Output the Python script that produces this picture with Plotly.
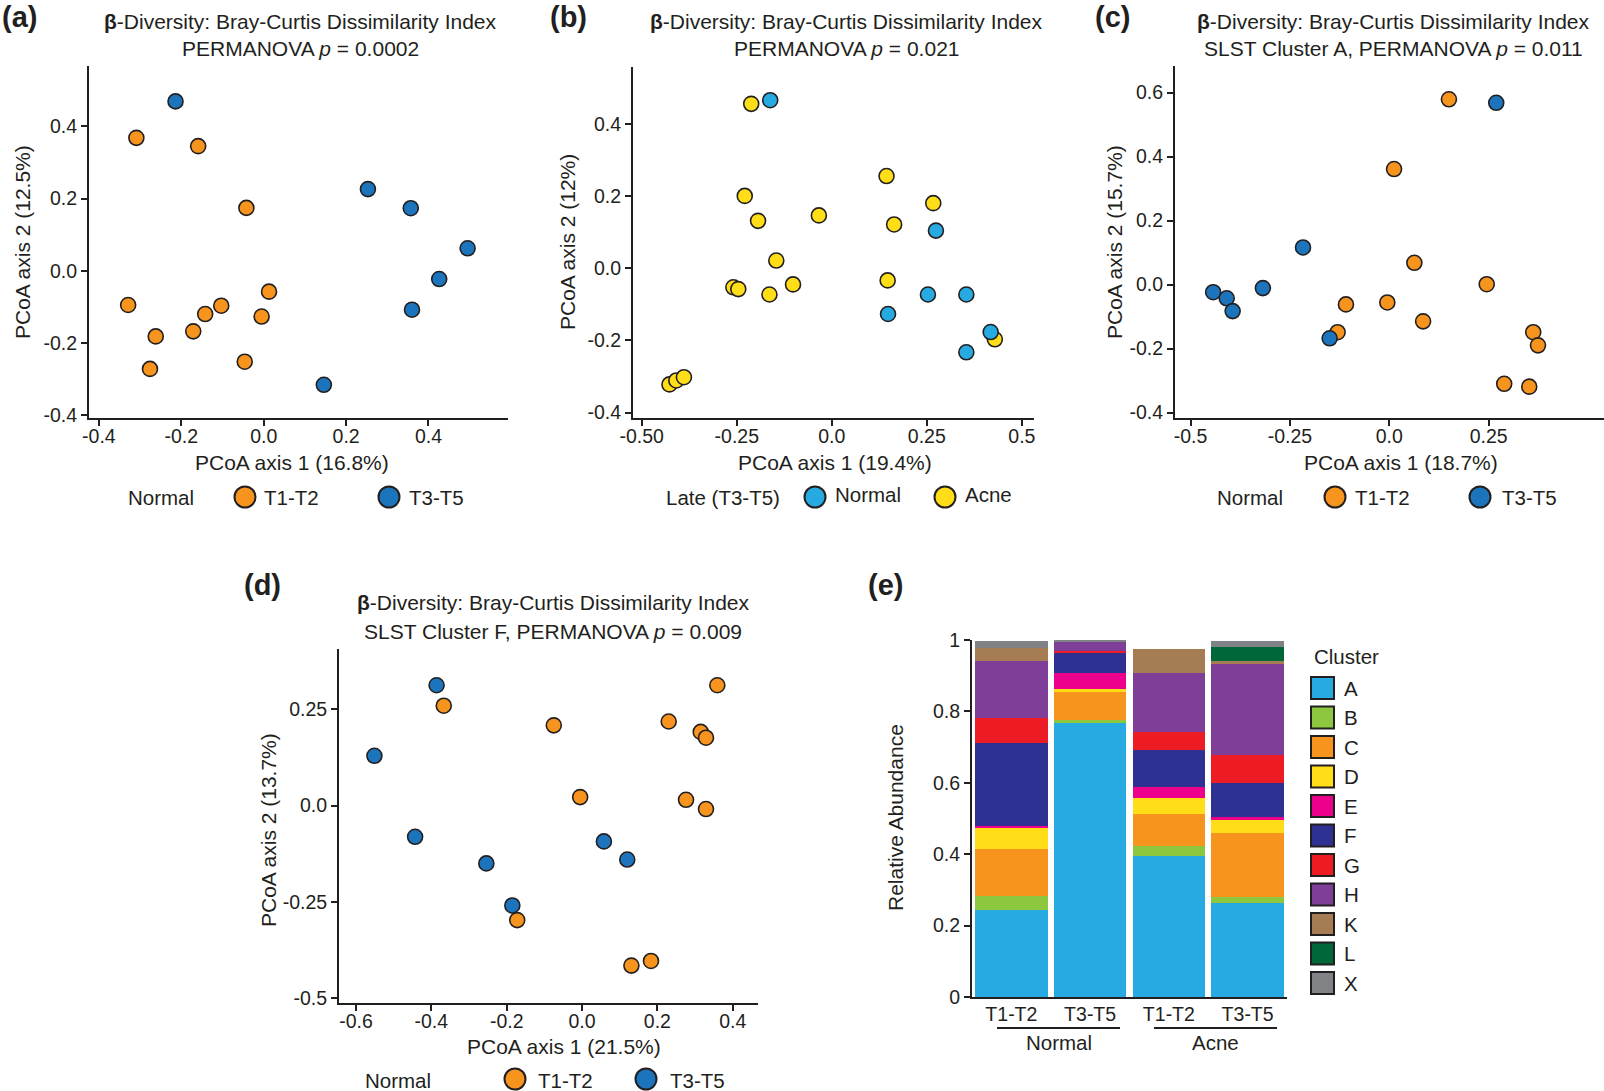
"""Beta-diversity PCoA panels (a-d) and SLST cluster abundance bars (e)."""
import plotly.graph_objects as go

W, H = 1604, 1091
FONT = "Liberation Sans, Arial, Helvetica, sans-serif"
INK = "#231F20"
ORANGE = "#F7941D"
DARK_BLUE = "#1C75BC"
LIGHT_BLUE = "#27AAE1"
YELLOW = "#FFDE17"

# ---- panel (a): Normal skin, T1-T2 vs T3-T5 ----
a_t12_x = [-0.309, -0.159, -0.042, -0.329, -0.262, -0.276, -0.171, -0.142, -0.103, 0.013, -0.005, -0.046]
a_t12_y = [0.368, 0.345, 0.174, -0.095, -0.182, -0.272, -0.168, -0.120, -0.097, -0.058, -0.127, -0.252]
a_t35_x = [-0.214, 0.253, 0.357, 0.495, 0.426, 0.360, 0.146]
a_t35_y = [0.469, 0.226, 0.173, 0.062, -0.023, -0.108, -0.316]

# ---- panel (b): late (T3-T5), Normal vs Acne ----
b_acne_x = [-0.212, -0.229, -0.194, -0.034, -0.146, -0.259, -0.246, -0.164, -0.102,
            -0.427, -0.409, -0.389, 0.144, 0.267, 0.164, 0.147, 0.429]
b_acne_y = [0.455, 0.200, 0.131, 0.146, 0.021, -0.053, -0.058, -0.073, -0.045,
            -0.322, -0.311, -0.302, 0.255, 0.180, 0.121, -0.034, -0.197]
b_norm_x = [-0.162, 0.274, 0.253, 0.354, 0.148, 0.418, 0.354]
b_norm_y = [0.465, 0.104, -0.073, -0.073, -0.127, -0.177, -0.233]

# ---- panel (c): SLST cluster A ----
c_t12_x = [0.150, 0.012, 0.063, 0.245, -0.005, -0.109, -0.130, 0.085, 0.362, 0.374, 0.289, 0.352]
c_t12_y = [0.579, 0.361, 0.068, 0.001, -0.056, -0.062, -0.149, -0.115, -0.149, -0.190, -0.310, -0.319]
c_t35_x = [0.269, -0.217, -0.318, -0.443, -0.409, -0.394, -0.150]
c_t35_y = [0.568, 0.116, -0.011, -0.024, -0.043, -0.083, -0.168]

# ---- panel (d): SLST cluster F ----
d_t12_x = [-0.367, -0.075, 0.230, 0.359, 0.315, 0.329, -0.005, 0.276, 0.329, -0.172, 0.131, 0.183]
d_t12_y = [0.259, 0.208, 0.218, 0.312, 0.191, 0.176, 0.022, 0.015, -0.009, -0.297, -0.415, -0.403]
d_t35_x = [-0.386, -0.551, -0.443, -0.254, -0.185, 0.058, 0.120]
d_t35_y = [0.312, 0.129, -0.081, -0.150, -0.259, -0.093, -0.140]

# ---- panel (e): relative abundance of SLST clusters ----
groups = ["Normal T1-T2", "Normal T3-T5", "Acne T1-T2", "Acne T3-T5"]
group_ticks = ["T1-T2", "T3-T5", "T1-T2", "T3-T5"]
clusters = ["A", "B", "C", "D", "E", "F", "G", "H", "K", "L", "X"]
abundance = {
    "A": [0.243, 0.767, 0.396, 0.263],
    "B": [0.040, 0.010, 0.028, 0.016],
    "C": [0.131, 0.078, 0.088, 0.180],
    "D": [0.062, 0.009, 0.045, 0.036],
    "E": [0.003, 0.043, 0.031, 0.009],
    "F": [0.232, 0.057, 0.104, 0.095],
    "G": [0.071, 0.005, 0.051, 0.079],
    "H": [0.159, 0.027, 0.164, 0.256],
    "K": [0.038, 0.000, 0.068, 0.007],
    "L": [0.000, 0.000, 0.000, 0.039],
    "X": [0.018, 0.004, 0.000, 0.017],
}
cluster_colors = ["#27AAE1", "#8DC63F", "#F7941D", "#FFDE17", "#EC008C", "#2E3192",
                  "#ED1C24", "#7F3F98", "#A67C52", "#006838", "#808285"]

# tick labels
a_xt = [-0.4, -0.2, 0.0, 0.2, 0.4]
a_xl = ["-0.4", "-0.2", "0.0", "0.2", "0.4"]
a_yt = [-0.4, -0.2, 0.0, 0.2, 0.4]
a_yl = ["-0.4", "-0.2", "0.0", "0.2", "0.4"]
b_xt = [-0.5, -0.25, 0.0, 0.25, 0.5]
b_xl = ["-0.50", "-0.25", "0.0", "0.25", "0.5"]
b_yt = a_yt
b_yl = a_yl
c_xt = [-0.5, -0.25, 0.0, 0.25]
c_xl = ["-0.5", "-0.25", "0.0", "0.25"]
c_yt = [-0.4, -0.2, 0.0, 0.2, 0.4, 0.6]
c_yl = ["-0.4", "-0.2", "0.0", "0.2", "0.4", "0.6"]
d_xt = [-0.6, -0.4, -0.2, 0.0, 0.2, 0.4]
d_xl = ["-0.6", "-0.4", "-0.2", "0.0", "0.2", "0.4"]
d_yt = [-0.5, -0.25, 0.0, 0.25]
d_yl = ["-0.5", "-0.25", "0.0", "0.25"]
e_yt = [0, 0.2, 0.4, 0.6, 0.8, 1.0]
e_yl = ["0", "0.2", "0.4", "0.6", "0.8", "1"]


def px(x):
    return x / W


def py(y):
    return 1 - y / H


def axis_style(dom, rng, tickvals, ticktext, anchor, vertical=False):
    ax = dict(
        domain=[py(dom[1]), py(dom[0])] if vertical else [px(dom[0]), px(dom[1])],
        range=rng, anchor=anchor, showline=True, linecolor=INK, linewidth=2,
        ticks="outside", ticklen=6, tickwidth=1.5, tickcolor=INK,
        tickvals=tickvals, ticktext=ticktext,
        tickfont=dict(family=FONT, size=19.5, color=INK),
        showgrid=False, zeroline=False, fixedrange=True, automargin=False,
    )
    if not vertical:
        ax["ticklabelstandoff"] = -6
    return ax


def points(x, y, color, xa, ya):
    return go.Scatter(
        x=x, y=y, mode="markers", xaxis=xa, yaxis=ya, showlegend=False,
        marker=dict(size=15, color=color, line=dict(color=INK, width=1.6)),
    )


fig = go.Figure()
fig.add_trace(points(a_t12_x, a_t12_y, ORANGE, "x", "y"))
fig.add_trace(points(a_t35_x, a_t35_y, DARK_BLUE, "x", "y"))
fig.add_trace(points(b_acne_x, b_acne_y, YELLOW, "x2", "y2"))
fig.add_trace(points(b_norm_x, b_norm_y, LIGHT_BLUE, "x2", "y2"))
fig.add_trace(points(c_t12_x, c_t12_y, ORANGE, "x3", "y3"))
fig.add_trace(points(c_t35_x, c_t35_y, DARK_BLUE, "x3", "y3"))
fig.add_trace(points(d_t12_x, d_t12_y, ORANGE, "x4", "y4"))
fig.add_trace(points(d_t35_x, d_t35_y, DARK_BLUE, "x4", "y4"))

for name, color in zip(clusters, cluster_colors):
    fig.add_trace(go.Bar(
        x=groups, y=abundance[name], name=name, xaxis="x5", yaxis="y5",
        marker=dict(color=color, line=dict(width=0)), showlegend=False,
    ))

e_x = axis_style((972, 1287), [-0.5, 3.5], groups, group_ticks, "y5")
e_x.update(ticks="", type="category", ticklabelstandoff=-1)
e_y = axis_style((640, 997), [0, 1.0], e_yt, e_yl, "x5", vertical=True)

fig.update_layout(
    width=W, height=H, margin=dict(l=0, r=0, t=0, b=0),
    paper_bgcolor="white", plot_bgcolor="white",
    font=dict(family=FONT, color=INK),
    barmode="stack", bargap=0.08,
    xaxis=axis_style((89, 508), [-0.424, 0.593], a_xt, a_xl, "y"),
    yaxis=axis_style((66, 418), [-0.408, 0.567], a_yt, a_yl, "x", vertical=True),
    xaxis2=axis_style((633, 1034), [-0.523, 0.532], b_xt, b_xl, "y2"),
    yaxis2=axis_style((67, 418), [-0.415, 0.557], b_yt, b_yl, "x2", vertical=True),
    xaxis3=axis_style((1175, 1604), [-0.539, 0.54], c_xt, c_xl, "y3"),
    yaxis3=axis_style((66, 418), [-0.417, 0.683], c_yt, c_yl, "x3", vertical=True),
    xaxis4=axis_style((339, 758), [-0.645, 0.467], d_xt, d_xl, "y4"),
    yaxis4=axis_style((649, 1003), [-0.512, 0.406], d_yt, d_yl, "x4", vertical=True),
    xaxis5=e_x,
    yaxis5=e_y,
)

annotations = []
shapes = []


def text(x, y, s, size=21, anchor="center", angle=0, bold=False):
    annotations.append(dict(
        x=px(x), y=py(y), xref="paper", yref="paper", text=f"<b>{s}</b>" if bold else s,
        showarrow=False, xanchor=anchor, yanchor="middle", textangle=angle,
        font=dict(family=FONT, size=size, color=INK),
    ))


def dot(cx, cy, color, r=10.5):
    shapes.append(dict(
        type="circle", xref="paper", yref="paper",
        x0=px(cx - r), x1=px(cx + r), y0=py(cy + r), y1=py(cy - r),
        fillcolor=color, line=dict(color=INK, width=2),
    ))


TITLE1 = "<b>β</b>-Diversity: Bray-Curtis Dissimilarity Index"

# panel letters
text(19, 17, "(a)", 29, bold=True)
text(568, 17, "(b)", 29, bold=True)
text(1112, 17, "(c)", 29, bold=True)
text(262, 585, "(d)", 29, bold=True)
text(885, 585, "(e)", 29, bold=True)

# titles
text(300, 22, TITLE1)
text(300, 49, "PERMANOVA <i>p</i> = 0.0002")
text(847, 22, TITLE1)
text(847, 49, "PERMANOVA <i>p</i> = 0.021")
text(1393, 22, TITLE1)
text(1393, 49, "SLST Cluster A, PERMANOVA <i>p</i> = 0.011")
text(553, 603, TITLE1)
text(553, 631, "SLST Cluster F, PERMANOVA <i>p</i> = 0.009")

# axis titles
text(292, 463, "PCoA axis 1 (16.8%)")
text(22, 242, "PCoA axis 2 (12.5%)", angle=-90)
text(835, 463, "PCoA axis 1 (19.4%)")
text(567, 242, "PCoA axis 2 (12%)", angle=-90)
text(1401, 463, "PCoA axis 1 (18.7%)")
text(1114, 242, "PCoA axis 2 (15.7%)", angle=-90)
text(564, 1046, "PCoA axis 1 (21.5%)")
text(268, 830, "PCoA axis 2 (13.7%)", angle=-90)
text(895, 818, "Relative Abundance", angle=-90)

# legends for scatter panels
LEG = 20.5
text(161, 497, "Normal", LEG)
dot(245, 497, ORANGE)
text(262, 497, "T1-T2", LEG, anchor="left")
dot(389, 497, DARK_BLUE)
text(407, 497, "T3-T5", LEG, anchor="left")

text(723, 497, "Late (T3-T5)", LEG)
dot(815, 497, LIGHT_BLUE)
text(833, 495, "Normal", LEG, anchor="left")
dot(945, 497, YELLOW)
text(963, 495, "Acne", LEG, anchor="left")

text(1250, 497, "Normal", LEG)
dot(1335, 497, ORANGE)
text(1353, 497, "T1-T2", LEG, anchor="left")
dot(1480, 497, DARK_BLUE)
text(1500, 497, "T3-T5", LEG, anchor="left")

text(398, 1080, "Normal", LEG)
dot(515, 1079, ORANGE)
text(536, 1080, "T1-T2", LEG, anchor="left")
dot(646, 1079, DARK_BLUE)
text(668, 1080, "T3-T5", LEG, anchor="left")

# legend for the bar panel
text(1346, 656, "Cluster", LEG)
for i, (name, color) in enumerate(zip(clusters, cluster_colors)):
    cy = 688 + i * 29.5
    shapes.append(dict(
        type="rect", xref="paper", yref="paper",
        x0=px(1311), x1=px(1334), y0=py(cy + 11), y1=py(cy - 11),
        fillcolor=color, line=dict(color=INK, width=2),
    ))
    text(1342, cy, name, LEG, anchor="left")

# group brackets under panel (e)
for x0, x1, label in [(997, 1120, "Normal"), (1154, 1277, "Acne")]:
    shapes.append(dict(
        type="line", xref="paper", yref="paper",
        x0=px(x0), x1=px(x1), y0=py(1028), y1=py(1028),
        line=dict(color=INK, width=2),
    ))
    text((x0 + x1) / 2, 1042, label, LEG)

fig.update_layout(annotations=annotations, shapes=shapes)
# drop the default 8px body margin so the figure fills the window exactly
fig.write_html(
    "out.html",
    config={"displayModeBar": False},
    post_script="document.body.style.margin = '0';",
)
